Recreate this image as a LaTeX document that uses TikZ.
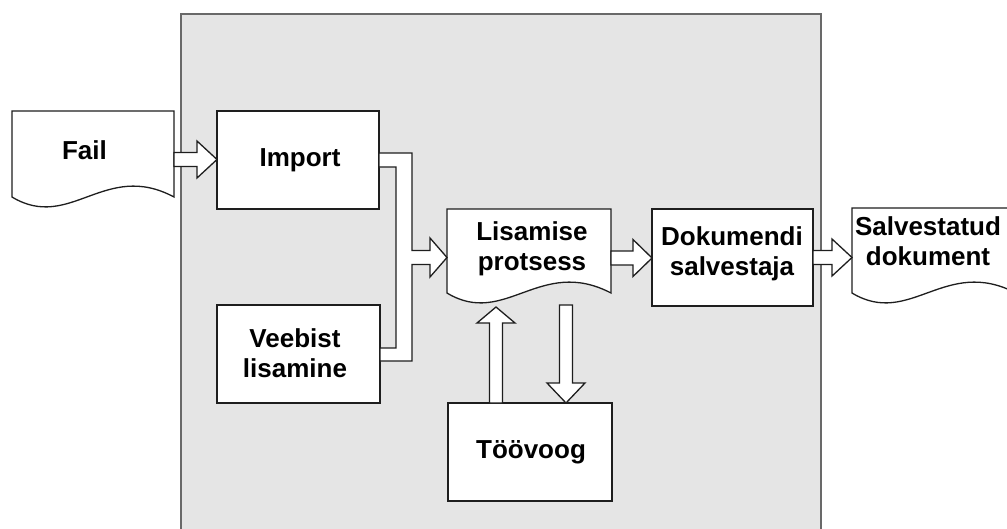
\documentclass[tikz,border=0pt]{standalone}
\usepackage{fontspec}
\setmainfont{Liberation Sans}
\usetikzlibrary{calc}
\definecolor{panelfill}{RGB}{229,229,229}
\definecolor{panelline}{RGB}{105,105,105}
\definecolor{inkline}{RGB}{30,30,30}
\tikzset{
  panel/.style={draw=panelline, line width=2.5pt, fill=panelfill, inner sep=0pt, outer sep=0pt},
  procbox/.style={draw=inkline, line width=1.3pt, fill=white, inner sep=0pt, outer sep=0pt},
  docnode/.style={inner sep=0pt, outer sep=0pt},
  docline/.style={draw=inkline, line width=1.3pt, fill=white},
  barrow/.style={draw=inkline, line width=1.3pt, fill=white, line join=miter},
  lbl/.style={inner sep=0pt, outer sep=0pt, anchor=base, align=center,
    font=\fontsize{26}{30}\selectfont\bfseries, text=black}
}
\newcommand\docshape[1]{%
  \draw[docline] (#1.south west) -- (#1.north west) -- (#1.north east) -- (#1.south east)
    .. controls ($(#1.south west)+(93,-37)$) and ($(#1.south west)+(58,35)$) .. (#1.south west) -- cycle;}
% horizontal block arrow: from, to, y (px), head length
\newcommand\harrow[4]{%
  \draw[barrow] let \p1=(#1),\p2=(#2) in
  (\x1,{-(#3-7)*1pt}) -- ({\x2-#4pt},{-(#3-7)*1pt}) -- ({\x2-#4pt},{-(#3-18.5)*1pt})
  -- (\x2,{-#3*1pt}) -- ({\x2-#4pt},{-(#3+18.5)*1pt}) -- ({\x2-#4pt},{-(#3+7)*1pt})
  -- (\x1,{-(#3+7)*1pt}) -- cycle;}
% vertical block arrow: from, to, x (px), head length, sign (+1 up, -1 down)
\newcommand\varrow[5]{%
  \draw[barrow] let \p1=(#1),\p2=(#2) in
  ({(#3-6.5)*1pt},\y1) -- ({(#3-6.5)*1pt},{\y2-(#5)*#4pt}) -- ({(#3-19)*1pt},{\y2-(#5)*#4pt})
  -- ({#3*1pt},\y2) -- ({(#3+19)*1pt},{\y2-(#5)*#4pt}) -- ({(#3+6.5)*1pt},{\y2-(#5)*#4pt})
  -- ({(#3+6.5)*1pt},\y1) -- cycle;}
\begin{document}
\begin{tikzpicture}[x=1pt,y=-1pt]
\useasboundingbox (0,0) rectangle (1007,528);
\clip (0,0) rectangle (1007,528);
\fill[white] (0,0) rectangle (1007,528);
% container panel
\node[panel, minimum width=640pt, minimum height=530pt] (sys) at (501,279) {};
% documents
\node[docnode, minimum width=162pt, minimum height=86pt] (fail) at (93,154) {};
\docshape{fail}
\node[docnode, minimum width=164pt, minimum height=84pt] (lis) at (529,251) {};
\docshape{lis}
\node[docnode, minimum width=164pt, minimum height=85pt] (salv) at (934,250.5) {};
\docshape{salv}
% process boxes
\node[procbox, minimum width=162pt, minimum height=98pt] (import) at (298,160) {};
\node[procbox, minimum width=163pt, minimum height=98pt] (veeb) at (298.5,354) {};
\node[procbox, minimum width=161pt, minimum height=97pt] (dok) at (732.5,257.5) {};
\node[procbox, minimum width=164pt, minimum height=98pt] (too) at (530,452) {};
% free ends of the vertical arrows
\coordinate (utip) at (496,307);
\coordinate (dstart) at (566,305);
% connectors
\harrow{fail.east}{import.west}{159.5}{20}
\harrow{lis.east}{dok.west}{258}{19}
\harrow{dok.east}{salv.west}{257.5}{20}
\draw[barrow] let \p1=(import.east),\p2=(veeb.east),\p3=(lis.west) in
  (\x1,-153pt) -- (412,153) -- (412,250.5) -- (430,250.5) -- (430,238) -- (\x3,-257.5pt)
  -- (430,277) -- (430,264.5) -- (412,264.5) -- (412,361) -- (\x2,-361pt)
  -- (\x2,-348pt) -- (396,348) -- (396,167) -- (\x1,-167pt) -- cycle;
\varrow{too.north}{utip}{496}{16}{1}
\varrow{dstart}{too.north}{566}{20}{-1}
% labels (anchor base = baseline of the last line)
\node[lbl] (tfail) at (84.5,159) {Fail};
\node[lbl] (timport) at (300,166) {Import};
\node[lbl] (tveeb) at (295,377) {Veebist\\lisamine};
\node[lbl] (tlis) at (532,270) {Lisamise\\protsess};
\node[lbl] (tdok) at (732,275) {Dokumendi\\salvestaja};
\node[lbl] (tsalv) at (928,265) {Salvestatud\\dokument};
\node[lbl] (ttoo) at (531,458) {Töövoog};
\end{tikzpicture}
\end{document}
